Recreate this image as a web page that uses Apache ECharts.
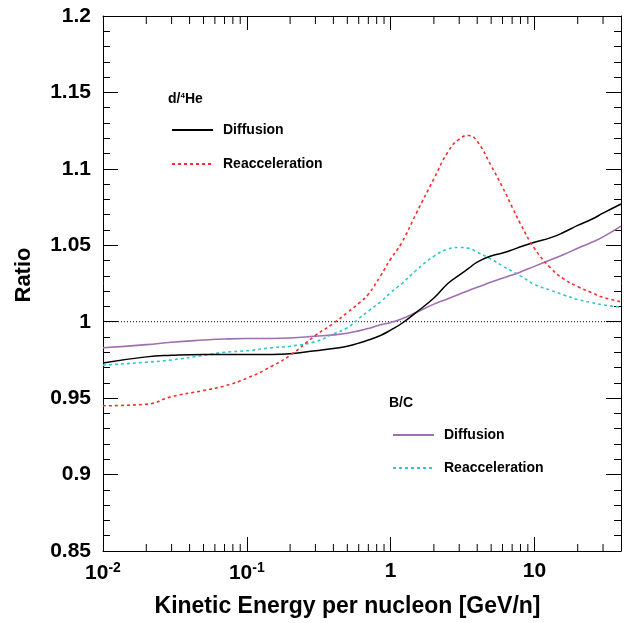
<!DOCTYPE html>
<html>
<head>
<meta charset="utf-8">
<script src="https://cdn.jsdelivr.net/npm/echarts@6/dist/echarts.min.js"></script>
<style>html,body{margin:0;padding:0;background:#fff}#c{width:624px;height:623px}</style>
</head>
<body>
<div id="c"></div>
<script>
// Kinetic energy per nucleon [GeV/n]
const energy = [0.01,0.02,0.03,0.05,0.07,0.1,0.15,0.2,0.3,0.4,0.5,0.6,0.7,0.85,1,1.2,1.5,2,2.5,3,3.5,4,5,6,7,8,10,13,16,20,25,30,40];
// d/4He ratios
const dHeDiffusion = [0.973,0.977,0.978,0.9785,0.9785,0.9785,0.9785,0.979,0.981,0.9825,0.984,0.986,0.988,0.991,0.9945,0.999,1.006,1.0155,1.025,1.0305,1.035,1.039,1.043,1.045,1.047,1.049,1.052,1.055,1.0585,1.063,1.067,1.071,1.077];
const dHeReacc = [0.945,0.946,0.951,0.955,0.958,0.963,0.971,0.978,0.991,0.999,1.006,1.012,1.018,1.030,1.041,1.052,1.0705,1.0935,1.111,1.1195,1.1218,1.118,1.102,1.088,1.075,1.064,1.048,1.035,1.028,1.023,1.019,1.016,1.013];
// B/C ratios
const bcDiffusion = [0.983,0.985,0.9866,0.988,0.9887,0.989,0.989,0.9893,0.9905,0.9914,0.9925,0.994,0.9956,0.998,0.9995,1.002,1.006,1.0115,1.015,1.018,1.0205,1.0225,1.026,1.0285,1.0305,1.0325,1.0362,1.0405,1.044,1.048,1.052,1.0555,1.0625];
const bcReacc = [0.9716,0.9735,0.975,0.978,0.980,0.981,0.983,0.984,0.987,0.992,0.996,1.002,1.007,1.013,1.019,1.025,1.0335,1.0428,1.0475,1.0486,1.048,1.0455,1.041,1.0365,1.033,1.030,1.0245,1.0205,1.0175,1.0145,1.0125,1.011,1.0095];
// axis settings
const xMin = 0.01, xMax = 40;
const yMin = 0.85, yMax = 1.2, yStep = 0.05;
const xMinorTicks = [0.02,0.03,0.04,0.05,0.06,0.07,0.08,0.09,0.2,0.3,0.4,0.5,0.6,0.7,0.8,0.9,2,3,4,5,6,7,8,9,20,30];
const refLine = [[0.01,1],[40,1]];

const pair = (ys) => energy.map((x,i)=>[x, ys[i]]);
const FONT = 'Liberation Sans';

const chart = echarts.init(document.getElementById('c'), null, {renderer:'canvas'});
const xLabel = (v) => {
  const e = Math.log10(v);
  const r = Math.round(e);
  if (Math.abs(e - r) > 1e-6) return '';
  if (r < 0) return '{b|10}{s|' + r + '}';
  return '{b|' + Math.pow(10, r) + '}';
};
const axisLine = {show:true, lineStyle:{color:'#000', width:1}};
const legendText = {color:'#000', fontFamily:FONT, fontWeight:'bold', fontSize:14, padding:[0,0,0,5]};
chart.setOption({
  animation:false,
  backgroundColor:'#fff',
  grid:{left:103, top:16, width:519, height:535},
  xAxis:[{
    type:'log', logBase:10, min:xMin, max:xMax, position:'bottom',
    axisLine, splitLine:{show:false},
    axisTick:{show:true, inside:true, length:14, lineStyle:{color:'#000'}},
    axisLabel:{formatter:xLabel, margin:10, color:'#000',
      rich:{b:{fontFamily:FONT, fontWeight:'bold', fontSize:21, color:'#000'},
            s:{fontFamily:FONT, fontWeight:'bold', fontSize:14, color:'#000', padding:[0,0,10,0]}}},
  },{
    type:'log', logBase:10, min:xMin, max:xMax, position:'top',
    axisLine, splitLine:{show:false}, axisLabel:{show:false},
    axisTick:{show:true, inside:true, length:14, lineStyle:{color:'#000'}}
  }],
  yAxis:[{
    type:'value', min:yMin, max:yMax, interval:yStep, position:'left',
    axisLine, splitLine:{show:false},
    axisTick:{show:true, inside:true, length:15, lineStyle:{color:'#000'}},
    minorTick:{show:true, splitNumber:5, length:7, lineStyle:{color:'#000'}},
    axisLabel:{margin:12, color:'#000', fontFamily:FONT, fontWeight:'bold', fontSize:21}
  },{
    type:'value', min:yMin, max:yMax, interval:yStep, position:'right',
    axisLine, splitLine:{show:false}, axisLabel:{show:false},
    axisTick:{show:true, inside:true, length:15, lineStyle:{color:'#000'}},
    minorTick:{show:true, splitNumber:5, length:7, lineStyle:{color:'#000'}}
  }],
  legend:[{
    data:['d/4He Diffusion','d/4He Reacceleration'],
    orient:'vertical', left:171, top:123, padding:0, itemWidth:41, itemHeight:14, itemGap:20,
    itemStyle:{opacity:0},
    formatter:(n)=>n.split(' ')[1],
    textStyle:legendText, selectedMode:false
  },{
    data:['B/C Diffusion','B/C Reacceleration'],
    orient:'vertical', left:392, top:428, padding:0, itemWidth:41, itemHeight:14, itemGap:19,
    itemStyle:{opacity:0},
    formatter:(n)=>n.split(' ')[1],
    textStyle:legendText, selectedMode:false
  }],
  graphic:[
    {type:'text', left:168, top:92, style:{text:'{a|d/}{s|4}{a|He}', rich:{
      a:{fontFamily:FONT, fontWeight:'bold', fontSize:14, fill:'#000'},
      s:{fontFamily:FONT, fontWeight:'bold', fontSize:8, fill:'#000', padding:[0,0,7,0]}}}},
    {type:'text', left:389, top:396, style:{text:'B/C', fontFamily:FONT, fontWeight:'bold', fontSize:14, fill:'#000'}},
    {type:'text', x:347.5, y:607, style:{text:'Kinetic Energy per nucleon [GeV/n]', fontFamily:FONT, fontWeight:'bold', fontSize:23, fill:'#000', align:'center', verticalAlign:'middle'}},
    {type:'text', x:24, y:275, rotation:Math.PI/2, style:{text:'Ratio', fontFamily:FONT, fontWeight:'bold', fontSize:22, fill:'#000', align:'center', verticalAlign:'middle'}}
  ],
  series:[
    {name:'ref', type:'line', data:refLine, symbol:'none', silent:true,
      lineStyle:{color:'#000', width:1, type:[1,2]}},
    {name:'B/C Diffusion', type:'line', data:pair(bcDiffusion), symbol:'none', smooth:true,
      lineStyle:{color:'#9f6fb0', width:1.6}, itemStyle:{color:'#9f6fb0'}},
    {name:'B/C Reacceleration', type:'line', data:pair(bcReacc), symbol:'none', smooth:true,
      lineStyle:{color:'#2ec8c8', width:1.6, type:[3,3]}, itemStyle:{color:'#2ec8c8'}},
    {name:'d/4He Diffusion', type:'line', data:pair(dHeDiffusion), symbol:'none', smooth:true,
      lineStyle:{color:'#000', width:1.5}, itemStyle:{color:'#000'}},
    {name:'d/4He Reacceleration', type:'line', data:pair(dHeReacc), symbol:'none', smooth:true,
      lineStyle:{color:'#ff2a2a', width:1.6, type:[3,3]}, itemStyle:{color:'#ff2a2a'}},
    {name:'minor', type:'custom', silent:true, clip:false,
      data:xMinorTicks.map(x=>[x, yMin]),
      encode:{x:0, y:1},
      renderItem:(params, api)=>{
        const b = api.coord([api.value(0), yMin]);
        const t = api.coord([api.value(0), yMax]);
        const st = {stroke:'#000', lineWidth:1};
        return {type:'group', children:[
          {type:'line', shape:{x1:b[0], y1:b[1], x2:b[0], y2:b[1]-7}, style:st},
          {type:'line', shape:{x1:t[0], y1:t[1], x2:t[0], y2:t[1]+8}, style:st}
        ]};
      }}
  ]
});
</script>
</body>
</html>
